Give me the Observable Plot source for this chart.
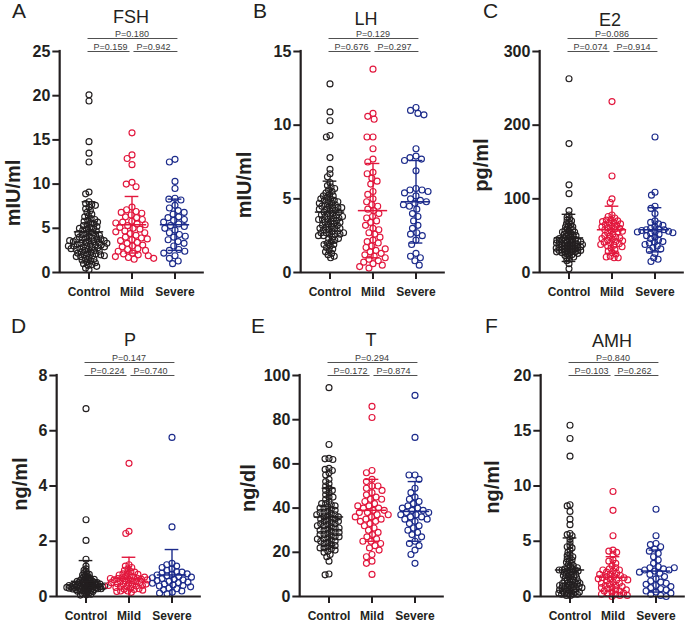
<!DOCTYPE html>
<html>
<head>
<meta charset="utf-8">
<script src="https://cdn.jsdelivr.net/npm/d3@7"></script>
<script src="https://cdn.jsdelivr.net/npm/@observablehq/plot@0.6"></script>
<style>
  html, body { margin: 0; padding: 0; background: #fff; }
  #root { position: relative; width: 690px; height: 623px; overflow: hidden; font-family: "Liberation Sans", Arial, sans-serif; color: #231f20; }
  .panel { position: absolute; width: 230px; }
  .letter { position: absolute; font-size: 21px; line-height: 1; white-space: nowrap; }
  .title { position: absolute; font-size: 18px; line-height: 1; transform: translate(-50%, -50%); white-space: nowrap; }
  .ylab { position: absolute; font-size: 20px; font-weight: bold; line-height: 1; transform: translate(-50%, -50%) rotate(-90deg); white-space: nowrap; }
</style>
</head>
<body>
<div id="root"></div>
<script>
// ---------- categories ----------
const groups = ["Control", "Mild", "Severe"];
const groupColors = ["#231f20", "#e2173d", "#1c2b8b"];

// ---------- A: FSH (mIU/ml) ----------
const fshControl = [20.1, 19.4, 14.8, 13.5, 12.5, 9.1, 8.9, 8.0, 7.8, 7.7, 7.6, 7.4, 7.2, 7.0, 6.8, 6.6, 6.4, 6.3, 6.1, 6.0, 5.9, 5.8, 5.7, 5.6, 5.5, 5.4, 5.3, 5.2, 5.1, 5.0, 4.9, 4.8, 4.7, 4.6, 4.5, 4.4, 4.3, 4.2, 4.1, 4.0, 3.9, 3.9, 3.8, 3.8, 3.7, 3.7, 3.6, 3.6, 3.5, 3.5, 3.4, 3.4, 3.3, 3.3, 3.2, 3.2, 3.1, 3.1, 3.0, 3.0, 2.9, 2.9, 2.8, 2.8, 2.7, 2.7, 2.6, 2.5, 2.5, 2.4, 2.3, 2.3, 2.2, 2.1, 2.1, 2.0, 2.0, 1.9, 1.8, 1.8, 1.7, 1.6, 1.5, 1.4, 1.3, 1.2, 1.1, 1.0, 0.9, 0.8, 0.7, 0.5, 0.3, 4.2, 3.6, 5.0, 4.4, 2.6, 3.0, 1.9];
const fshMild = [15.8, 13.3, 12.9, 12.2, 10.2, 10.0, 9.7, 7.4, 7.1, 6.9, 6.7, 6.5, 6.3, 6.2, 6.0, 5.8, 5.7, 5.5, 5.4, 5.3, 5.1, 5.0, 4.9, 4.7, 4.5, 4.4, 4.2, 4.0, 3.9, 3.7, 3.6, 3.4, 3.3, 3.1, 3.0, 2.9, 2.7, 2.6, 2.5, 2.4, 2.2, 2.1, 2.0, 1.9, 1.8, 1.7, 1.6, 1.5, 3.8, 4.6, 5.6, 6.8];
const fshSevere = [12.8, 12.5, 10.3, 9.5, 8.4, 8.3, 8.2, 7.6, 7.3, 7.0, 6.8, 6.6, 6.3, 6.2, 6.0, 5.9, 5.7, 5.5, 5.3, 5.2, 5.0, 4.8, 4.5, 4.3, 4.0, 3.7, 3.5, 3.3, 3.0, 2.6, 2.5, 2.4, 2.2, 1.9, 1.6, 1.3, 1.0, 4.1];
const fshMean = [4.6, 5.4, 5.4];
const fshSD = [3.4, 3.2, 2.9];
const fshTicks = [0, 5, 10, 15, 20, 25];
const fshP = ["P=0.159", "P=0.942", "P=0.180"];

// ---------- B: LH (mIU/ml) ----------
const lhControl = [12.8, 10.9, 10.3, 9.3, 9.2, 7.8, 7.0, 6.7, 6.5, 6.1, 5.9, 5.8, 5.7, 5.6, 5.5, 5.4, 5.3, 5.2, 5.1, 5.0, 4.9, 4.9, 4.8, 4.8, 4.7, 4.6, 4.6, 4.5, 4.5, 4.4, 4.4, 4.3, 4.3, 4.2, 4.2, 4.1, 4.1, 4.0, 4.0, 3.9, 3.9, 3.8, 3.8, 3.7, 3.7, 3.6, 3.6, 3.5, 3.5, 3.4, 3.4, 3.3, 3.3, 3.2, 3.2, 3.1, 3.1, 3.0, 3.0, 2.9, 2.9, 2.8, 2.8, 2.7, 2.7, 2.6, 2.6, 2.6, 2.5, 2.5, 2.4, 2.3, 2.2, 2.1, 2.0, 1.9, 1.8, 1.7, 1.6, 1.5, 1.4, 1.3, 1.2, 1.1, 1.0, 5.0, 4.7, 3.6, 3.0, 2.7, 4.4, 5.2, 1.9, 2.3, 3.8];
const lhMild = [13.8, 10.8, 10.6, 10.4, 9.2, 9.2, 8.4, 7.7, 7.5, 6.8, 6.7, 6.4, 6.2, 6.0, 5.5, 5.3, 5.0, 4.6, 4.5, 4.3, 4.2, 4.0, 3.8, 3.7, 3.5, 3.4, 3.2, 3.0, 2.9, 2.7, 2.6, 2.4, 2.2, 2.1, 2.0, 1.8, 1.7, 1.5, 1.4, 1.3, 1.2, 1.1, 1.0, 0.9, 0.8, 0.7, 0.6, 0.5, 0.3, 0.4, 1.6, 4.8];
const lhSevere = [11.2, 11.0, 10.8, 10.7, 8.4, 7.9, 7.8, 7.7, 7.6, 6.9, 5.7, 5.6, 5.6, 5.5, 5.4, 5.2, 5.0, 4.9, 4.8, 4.7, 4.5, 4.3, 4.0, 3.8, 3.5, 3.2, 3.0, 2.7, 2.6, 2.5, 2.2, 1.9, 1.3, 1.1, 1.0, 0.8, 0.5, 4.6];
const lhMean = [4.1, 4.2, 4.8];
const lhSD = [2.1, 3.2, 2.8];
const lhTicks = [0, 5, 10, 15];
const lhP = ["P=0.676", "P=0.297", "P=0.129"];

// ---------- C: E2 (pg/ml) ----------
const e2Control = [263, 175, 119, 107, 84, 78, 75, 73, 71, 70, 68, 66, 65, 63, 62, 60, 59, 58, 57, 56, 55, 54, 53, 52, 51, 50, 49, 48, 47, 46, 45, 45, 44, 44, 43, 43, 42, 42, 41, 41, 40, 40, 39, 39, 38, 38, 37, 37, 36, 36, 35, 35, 34, 34, 33, 33, 32, 32, 31, 31, 30, 30, 29, 29, 28, 28, 27, 27, 26, 25, 24, 23, 22, 21, 20, 18, 16, 12, 5, 46, 50, 35, 30, 40, 55, 62, 33, 38, 44, 28];
const e2Mild = [232, 131, 100, 95, 78, 76, 74, 72, 71, 70, 69, 68, 67, 66, 65, 64, 63, 62, 61, 60, 59, 58, 57, 56, 55, 54, 52, 50, 49, 48, 47, 46, 45, 44, 43, 42, 41, 40, 39, 38, 37, 36, 35, 33, 31, 29, 27, 25, 22, 21, 20, 20];
const e2Severe = [184, 109, 105, 90, 87, 80, 70, 68, 66, 64, 62, 60, 59, 58, 58, 57, 56, 55, 55, 54, 53, 52, 50, 48, 46, 44, 42, 41, 40, 38, 36, 34, 32, 30, 26, 20, 18, 15];
const e2Mean = [47, 58, 58];
const e2SD = [32, 32, 30];
const e2Ticks = [0, 100, 200, 300];
const e2P = ["P=0.074", "P=0.914", "P=0.086"];

// ---------- D: P (ng/ml) ----------
const pControl = [6.8, 2.78, 2.03, 1.35, 1.1, 1.0, 0.95, 0.9, 0.85, 0.82, 0.8, 0.78, 0.75, 0.72, 0.7, 0.68, 0.66, 0.64, 0.62, 0.6, 0.6, 0.58, 0.56, 0.55, 0.54, 0.52, 0.5, 0.5, 0.48, 0.47, 0.46, 0.45, 0.44, 0.43, 0.42, 0.42, 0.41, 0.4, 0.4, 0.39, 0.38, 0.38, 0.37, 0.36, 0.36, 0.35, 0.35, 0.34, 0.33, 0.33, 0.32, 0.31, 0.3, 0.3, 0.29, 0.28, 0.27, 0.26, 0.25, 0.24, 0.23, 0.22, 0.21, 0.2, 0.19, 0.18, 0.16, 0.14, 0.12, 0.1, 0.08, 0.06, 0.05, 0.45, 0.55, 0.35, 0.3, 0.62, 0.4, 0.28, 0.5, 0.38, 0.33, 0.25];
const pMild = [4.82, 2.36, 2.28, 1.15, 1.1, 1.05, 1.0, 0.95, 0.9, 0.88, 0.85, 0.82, 0.8, 0.78, 0.75, 0.72, 0.7, 0.68, 0.66, 0.65, 0.63, 0.62, 0.6, 0.58, 0.57, 0.55, 0.53, 0.5, 0.48, 0.46, 0.45, 0.43, 0.4, 0.38, 0.36, 0.35, 0.33, 0.3, 0.28, 0.26, 0.25, 0.23, 0.2, 0.2, 0.18, 0.7, 0.6, 0.5, 0.45, 0.15, 0.4, 0.65];
const pSevere = [5.76, 2.52, 1.2, 1.15, 1.1, 1.05, 1.0, 0.95, 0.9, 0.88, 0.85, 0.82, 0.8, 0.78, 0.75, 0.72, 0.7, 0.68, 0.65, 0.62, 0.6, 0.58, 0.55, 0.52, 0.5, 0.48, 0.45, 0.42, 0.4, 0.38, 0.35, 0.3, 0.28, 0.25, 0.2, 0.15, 0.12, 0.1];
const pMean = [0.55, 0.65, 0.78];
const pSD = [0.75, 0.77, 0.92];
const pTicks = [0, 2, 4, 6, 8];
const pP = ["P=0.224", "P=0.740", "P=0.147"];

// ---------- E: T (ng/dl) ----------
const tControl = [94.5, 68.8, 62.5, 62.3, 62.0, 58.0, 57.5, 57.0, 56.0, 55.0, 53.0, 51.0, 50.0, 49.0, 48.0, 47.0, 46.0, 45.0, 44.0, 43.0, 42.0, 41.5, 41.0, 40.5, 40.0, 39.5, 39.0, 38.5, 38.0, 37.5, 37.0, 36.5, 36.0, 35.5, 35.0, 34.5, 34.0, 33.5, 33.0, 32.5, 32.0, 31.5, 31.0, 30.5, 30.0, 29.5, 29.0, 28.5, 28.0, 27.5, 27.0, 26.5, 26.0, 25.5, 25.0, 24.5, 24.0, 23.5, 23.0, 22.5, 22.0, 21.5, 21.0, 20.5, 20.0, 19.0, 18.0, 16.0, 10.2, 9.8, 35, 30, 28, 33, 38, 42, 27, 25, 31, 36, 45, 22, 29, 34, 37, 40, 26, 32, 48, 52];
const tMild = [86, 81, 57, 56, 53, 52, 50, 50, 49, 48, 47, 46, 45, 44, 44, 43, 42, 41, 40, 40, 39, 39, 38, 38, 37, 37, 36, 35, 35, 34, 34, 33, 32, 31, 30, 29, 28, 27, 26, 25, 25, 24, 23, 22, 21, 19, 18, 16, 15, 10, 41, 36];
const tSevere = [91, 72, 55, 55, 53, 49, 47, 45, 44, 43, 42, 41, 40, 39, 39, 38, 38, 37, 37, 36, 36, 35, 35, 34, 33, 32, 31, 30, 29, 28, 27, 25, 24, 23, 21, 19, 15, 40];
const tMean = [36, 39, 38.5];
const tSD = [13, 14, 13.5];
const tTicks = [0, 20, 40, 60, 80, 100];
const tP = ["P=0.172", "P=0.874", "P=0.294"];

// ---------- F: AMH (ng/ml) ----------
const amhControl = [15.5, 14.3, 12.7, 8.3, 8.2, 7.7, 7.0, 6.5, 5.7, 5.6, 5.5, 5.2, 4.9, 4.6, 4.5, 4.4, 4.2, 4.0, 3.8, 3.7, 3.5, 3.4, 3.3, 3.2, 3.1, 3.0, 2.9, 2.8, 2.7, 2.6, 2.5, 2.5, 2.4, 2.4, 2.4, 2.3, 2.3, 2.2, 2.1, 2.0, 1.9, 1.8, 1.8, 1.7, 1.6, 1.5, 1.5, 1.4, 1.3, 1.3, 1.2, 1.2, 1.1, 1.1, 1.0, 1.0, 0.9, 0.9, 0.8, 0.8, 0.7, 0.7, 0.6, 0.6, 0.5, 0.5, 0.4, 0.4, 0.3, 0.3, 0.2, 0.2, 0.2, 0.1, 0.1, 1.4, 2.4, 0.9, 1.7, 2.2, 3.6, 0.4, 1.0, 0.6, 2.6, 1.2, 0.3, 0.8, 1.9, 2.0];
const amhMild = [9.5, 7.8, 5.5, 4.2, 4.1, 4.0, 3.8, 3.3, 3.2, 3.0, 2.8, 2.6, 2.5, 2.4, 2.3, 2.2, 2.1, 2.0, 1.9, 1.8, 1.8, 1.7, 1.7, 1.6, 1.5, 1.4, 1.3, 1.2, 1.1, 1.0, 1.0, 0.9, 0.8, 0.7, 0.6, 0.5, 0.5, 0.4, 0.3, 0.3, 0.2, 0.2, 0.1, 0.1, 0.0, 1.6, 2.0, 0.8, 1.2, 0.6, 1.5, 2.4];
const amhSevere = [7.9, 5.5, 4.8, 4.7, 4.5, 4.3, 4.1, 3.9, 3.6, 3.3, 3.0, 2.7, 2.6, 2.5, 2.4, 2.4, 2.3, 2.2, 2.1, 2.0, 1.8, 1.6, 1.4, 1.3, 1.2, 1.1, 1.0, 0.9, 0.8, 0.7, 0.6, 0.5, 0.4, 0.3, 0.2, 0.1, 0.0, 2.6];
const amhMean = [2.4, 1.75, 2.3];
const amhSD = [2.9, 1.85, 1.9];
const amhTicks = [0, 5, 10, 15, 20];
const amhP = ["P=0.103", "P=0.262", "P=0.840"];

// ---------- panel layout (positions / packing only) ----------
const panels = [
  {letter: "A", title: "FSH", unit: "mIU/ml", values: [fshControl, fshMild, fshSevere], mean: fshMean, sd: fshSD, ticks: fshTicks, p: fshP,
   left: 0, top: 0, axisX: 57, letterXY: [12, 0], titleXY: [131, 17], labelXY: [13, 193], pack: [1.9, 3.0, 3.1]},
  {letter: "B", title: "LH", unit: "mIU/ml", values: [lhControl, lhMild, lhSevere], mean: lhMean, sd: lhSD, ticks: lhTicks, p: lhP,
   left: 230, top: 0, axisX: 68, letterXY: [253, 0], titleXY: [366, 19], labelXY: [244, 185], pack: [1.95, 3.0, 3.1]},
  {letter: "C", title: "E2", unit: "pg/ml", values: [e2Control, e2Mild, e2Severe], mean: e2Mean, sd: e2SD, ticks: e2Ticks, p: e2P,
   left: 460, top: 0, axisX: 77, letterXY: [483, 0], titleXY: [610, 20], labelXY: [481, 165], pack: [1.45, 2.05, 2.3]},
  {letter: "D", title: "P", unit: "ng/ml", values: [pControl, pMild, pSevere], mean: pMean, sd: pSD, ticks: pTicks, p: pP,
   left: 0, top: 324, axisX: 54, letterXY: [11, 315], titleXY: [130, 340], labelXY: [20, 484], pack: [1.2, 1.95, 2.7]},
  {letter: "E", title: "T", unit: "ng/dl", values: [tControl, tMild, tSevere], mean: tMean, sd: tSD, ticks: tTicks, p: tP,
   left: 230, top: 324, axisX: 67, letterXY: [251, 315], titleXY: [371, 340], labelXY: [248, 488], pack: [2.0, 3.0, 3.0]},
  {letter: "F", title: "AMH", unit: "ng/ml", values: [amhControl, amhMild, amhSevere], mean: amhMean, sd: amhSD, ticks: amhTicks, p: amhP,
   left: 460, top: 324, axisX: 78, letterXY: [485, 315], titleXY: [612, 341], labelXY: [492, 487], pack: [1.5, 2.15, 2.85]}
];

const ink = "#231f20";
const font = "Liberation Sans, Arial, sans-serif";

function drawPanel(c) {
  const W = 230, H = 299, mt = 51, mb = 27;
  const span = 148, po = 0.182;
  const step = span / (3 + 2 * po);      // px per group band
  const u = step / 2;                     // px per x unit (band = [-1, 1])
  const ext = (po * step) / u;            // x units from band edge to the axis
  const ymax = c.ticks[c.ticks.length - 1];
  const innerH = H - mt - mb;
  const yPx = (px) => (ymax * px) / innerH;

  const rows = groups.flatMap((g, i) => c.values[i].map((v) => ({g, v})));
  const stats = groups.map((g, i) => ({g, mean: c.mean[i], hi: c.mean[i] + c.sd[i], lo: c.mean[i] - c.sd[i]}));
  const bands = groups.map((g) => ({g}));
  const xL = -1 - ext;

  const dotMarks = groups.map((g, i) =>
    Plot.dot(rows.filter((d) => d.g === g),
      Plot.dodgeX({anchor: "middle", r: c.pack[i], padding: 0},
        {fx: "g", y: "v", r: 3, stroke: groupColors[i], strokeWidth: 1.15, fill: "none"}))
  );

  const brackets = [
    {g: "Control", x1: -1 / u, x2: 4 + 3 / u, y: ymax + yPx(13)},
    {g: "Control", x1: -1 / u, x2: 2 - 2 / u, y: ymax},
    {g: "Mild", x1: 2 / u, x2: 2 + 3 / u, y: ymax}
  ];
  const pLabels = [
    {g: "Control", x: 1, y: ymax, t: c.p[0]},
    {g: "Mild", x: 1, y: ymax, t: c.p[1]},
    {g: "Mild", x: 0, y: ymax + yPx(13), t: c.p[2]}
  ];

  return Plot.plot({
    width: W, height: H,
    marginLeft: c.axisX, marginRight: W - c.axisX - span, marginTop: mt, marginBottom: mb,
    style: {fontFamily: font, color: ink, overflow: "visible", background: "transparent"},
    fx: {domain: groups, paddingInner: 0, paddingOuter: po, align: 0.5, axis: null, label: null},
    x: {domain: [-1, 1], axis: null},
    y: {domain: [0, ymax], axis: null},
    color: {domain: groups, range: groupColors},
    marks: [
      ...dotMarks,
      // mean and SD
      Plot.ruleX(stats, {fx: "g", x: () => 0, y1: (d) => Math.max(0, d.lo), y2: "hi", stroke: "g", strokeWidth: 1.4}),
      Plot.ruleY(stats, {fx: "g", y: "mean", x1: () => -15 / u, x2: () => 15 / u, stroke: "g", strokeWidth: 1.5}),
      Plot.ruleY(stats, {fx: "g", y: "hi", x1: () => -7 / u, x2: () => 7 / u, stroke: "g", strokeWidth: 1.4}),
      Plot.ruleY(stats.filter((d) => d.lo > 0), {fx: "g", y: "lo", x1: () => -7 / u, x2: () => 7 / u, stroke: "g", strokeWidth: 1.4}),
      // axis lines
      Plot.ruleY(bands, {fx: "g", y: () => 0, x1: (d) => (d.g === "Control" ? xL : -1), x2: (d) => (d.g === "Severe" ? 1 + ext : 1), stroke: ink, strokeWidth: 2.2}),
      Plot.ruleX(["Control"], {fx: (d) => d, x: () => xL, y1: () => 0, y2: () => ymax, stroke: ink, strokeWidth: 2.2, strokeLinecap: "square"}),
      // y ticks + labels
      Plot.ruleY(c.ticks, {fx: () => "Control", y: (d) => d, x1: () => xL - 7 / u, x2: () => xL, stroke: ink, strokeWidth: 2}),
      Plot.text(c.ticks, {fx: () => "Control", y: (d) => d, x: () => xL - 9.5 / u, text: (d) => String(d), textAnchor: "end", fontSize: 16, fontWeight: "bold", fill: ink}),
      // x ticks + labels
      Plot.ruleX(bands, {fx: "g", x: () => 0, y1: () => 0, y2: () => -yPx(7), stroke: ink, strokeWidth: 2}),
      Plot.text(bands, {fx: "g", x: () => 0, y: () => -yPx(20), text: "g", fontSize: 12, fontWeight: "bold", fill: ink, lineAnchor: "middle"}),
      // p-value brackets
      Plot.ruleY(brackets, {fx: "g", y: "y", x1: "x1", x2: "x2", stroke: "#3c3c3c", strokeWidth: 0.9}),
      Plot.text(pLabels, {fx: "g", x: "x", y: "y", text: "t", lineAnchor: "bottom", dy: -2, fontSize: 9, fill: "#3c3c3c"})
    ]
  });
}

const root = document.getElementById("root");
for (const c of panels) {
  const wrap = document.createElement("div");
  wrap.className = "panel";
  wrap.style.left = c.left + "px";
  wrap.style.top = c.top + "px";
  wrap.appendChild(drawPanel(c));
  root.appendChild(wrap);

  const L = document.createElement("div");
  L.className = "letter";
  L.textContent = c.letter;
  L.style.left = c.letterXY[0] + "px";
  L.style.top = c.letterXY[1] + "px";
  root.appendChild(L);

  const T = document.createElement("div");
  T.className = "title";
  T.textContent = c.title;
  T.style.left = c.titleXY[0] + "px";
  T.style.top = c.titleXY[1] + "px";
  root.appendChild(T);

  const Y = document.createElement("div");
  Y.className = "ylab";
  Y.textContent = c.unit;
  Y.style.left = c.labelXY[0] + "px";
  Y.style.top = c.labelXY[1] + "px";
  root.appendChild(Y);
}
</script>
</body>
</html>
